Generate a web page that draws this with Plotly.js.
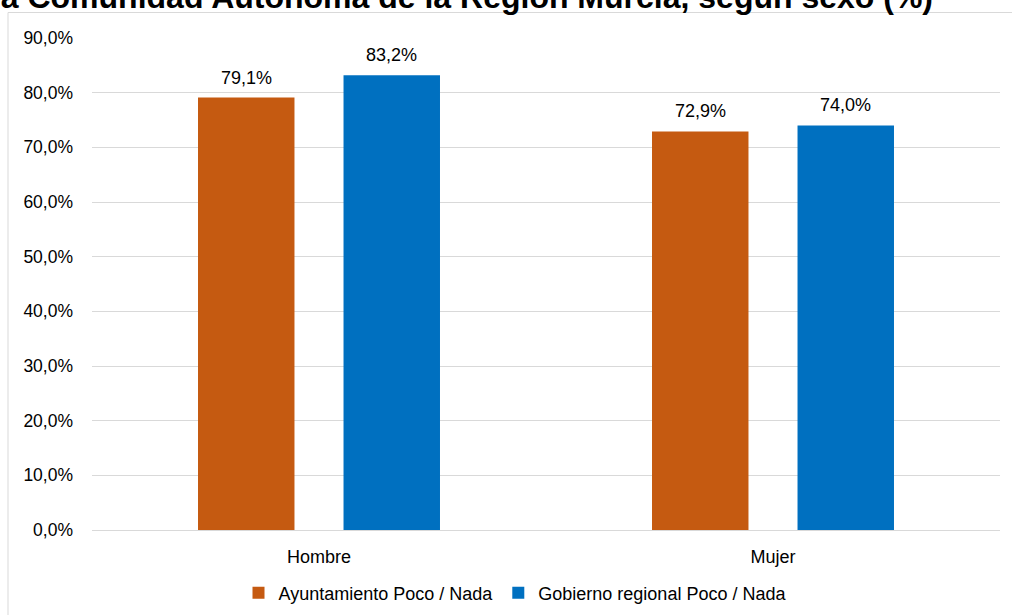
<!DOCTYPE html>
<html><head><meta charset="utf-8">
<script src="https://cdn.plot.ly/plotly-3.0.1.min.js"></script>
<style>html,body{margin:0;padding:0;background:#fff;}#chart{width:1012px;height:615px;}</style>
</head><body><div id="chart"></div>
<script>
const categories = ['Hombre', 'Mujer'];
const seriesNames = ['Ayuntamiento Poco / Nada', 'Gobierno regional Poco / Nada'];
const ayuntamiento = [79.1, 72.9];
const gobierno = [83.2, 74.0];
const tickValues = [0, 10, 20, 30, 40, 50, 60, 70, 80, 90];
const titleText = 'la Comunidad Autónoma de la Región Murcia, según sexo (%)';

const fmt = v => v.toFixed(1).replace('.', ',') + '%';
const FAM = 'Liberation Sans, Arial, sans-serif';
const font = {family: FAM, size: 18, color: '#000'};
const tickFont = {family: FAM, size: 17.5, color: '#000'};

const colors = ['#C55A11', '#0070C0'];
const seriesValues = [ayuntamiento, gobierno];

const traces = seriesValues.map((vals, s) => ({
  type: 'bar', name: seriesNames[s], x: categories, y: vals,
  marker: {color: colors[s]}, hoverinfo: 'none'
}));

const W = 1012, H = 615, L = 92, R = 12, T = 38, B = 85;
const pw = W - L - R, ph = H - T - B;
const bargap = 0.359, bargroupgap = 0.337;
const slot = (pw / categories.length) * (1 - bargap) / 2;

const annotations = [];
seriesValues.forEach((vals, s) => {
  vals.forEach((v, i) => {
    annotations.push({
      x: categories[i], y: v, xref: 'x', yref: 'y', text: fmt(v), showarrow: false,
      xshift: (s - 0.5) * slot, yshift: 20, yanchor: 'middle', xanchor: 'center', font: font
    });
  });
});

const layout = {
  width: W, height: H,
  margin: {l: L, r: R, t: T, b: B, pad: 0, autoexpand: false},
  paper_bgcolor: '#fff', plot_bgcolor: '#fff',
  separators: ',.',
  font: font,
  barmode: 'group', bargap: bargap, bargroupgap: bargroupgap,
  title: {text: '<b>' + titleText + '</b>', font: {family: FAM, size: 32, color: '#000'},
          xref: 'container', x: 933 / W, xanchor: 'right', yref: 'container', y: 1 - 8 / H, yanchor: 'bottom', automargin: false},
  xaxis: {showgrid: false, showline: true, linecolor: '#d9d9d9', linewidth: 1, ticks: '', tickfont: font, ticklabelstandoff: 10, fixedrange: true, automargin: false},
  yaxis: {range: [0, 90], tickvals: tickValues, ticktext: tickValues.map(fmt),
          showgrid: true, gridcolor: '#d9d9d9', gridwidth: 1, zeroline: false, showline: false, ticks: '',
          tickfont: tickFont, ticklabelstandoff: 18, fixedrange: true, automargin: false},
  showlegend: true,
  legend: {orientation: 'h', x: (515 - L) / pw, xanchor: 'center', y: (T + ph - 593) / ph, yanchor: 'middle',
           font: font, itemwidth: 30, traceorder: 'normal', bgcolor: 'rgba(0,0,0,0)', itemclick: false},
  annotations: annotations,
  shapes: [{type: 'rect', xref: 'paper', yref: 'paper', x0: (8 - L) / pw, x1: 1.2, y0: -0.5, y1: (T + ph - 12.5) / ph,
            line: {color: '#d9d9d9', width: 1}, fillcolor: 'rgba(0,0,0,0)', layer: 'below'}]
};

Plotly.newPlot('chart', traces, layout, {displayModeBar: false, staticPlot: true});
</script></body></html>
